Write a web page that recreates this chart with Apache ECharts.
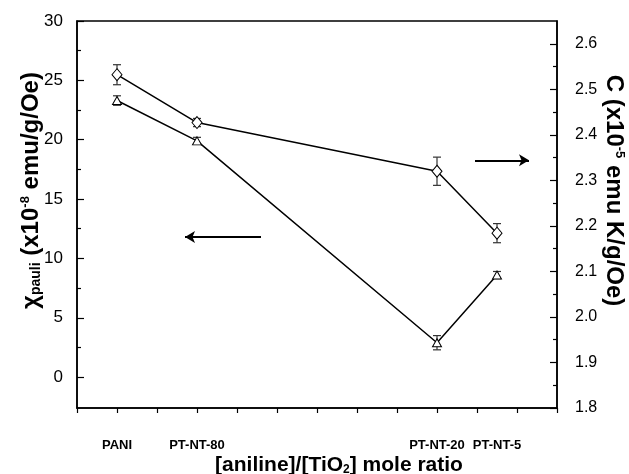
<!DOCTYPE html>
<html>
<head>
<meta charset="utf-8">
<script src="https://cdn.jsdelivr.net/npm/echarts@6/dist/echarts.min.js"></script>
<style>
html, body { margin: 0; padding: 0; background: #fff; }
#main { width: 629px; height: 474px; }
</style>
</head>
<body>
<div id="main"></div>
<script>
// samples and their place on the x scale
const samples = ['PANI', 'PT-NT-80', 'PT-NT-20', 'PT-NT-5'];
const samplePos = [1, 3, 9, 10.5];

// chi pauli (x10^-8 emu/g/Oe), left axis
const chiPauli = [23.3, 19.9, 2.9, 8.6];
const chiErr = [0.4, 0.3, 0.6, 0.3];

// Curie constant C (x10^-5 emu K/g/Oe), right axis
const curieC = [2.532, 2.427, 2.32, 2.184];
const curieErr = [0.022, 0.009, 0.031, 0.021];

const leftTicks = [0, 5, 10, 15, 20, 25, 30];
const leftMinor = [2.5, 7.5, 12.5, 17.5, 22.5, 27.5];
const rightTicks = [1.8, 1.9, 2.0, 2.1, 2.2, 2.3, 2.4, 2.5, 2.6];
const rightMinor = [1.85, 1.95, 2.05, 2.15, 2.25, 2.35, 2.45, 2.55];

const FONT = 'Liberation Sans, Arial, sans-serif';
let chart = echarts.init(document.getElementById('main'));

function errorBars(vals, errs, yIdx) {
  return {
    type: 'custom',
    xAxisIndex: 0,
    yAxisIndex: yIdx,
    silent: true,
    z: 1,
    data: samplePos.map((x, i) => [x, vals[i] - errs[i], vals[i] + errs[i]]),
    encode: { x: 0, y: [1, 2] },
    renderItem: function (params, api) {
      let lo = api.coord([api.value(0), api.value(1)]);
      let hi = api.coord([api.value(0), api.value(2)]);
      let w = 4;
      let st = { stroke: '#333', lineWidth: 1.2 };
      return {
        type: 'group',
        children: [
          { type: 'line', shape: { x1: lo[0], y1: lo[1], x2: hi[0], y2: hi[1] }, style: st },
          { type: 'line', shape: { x1: lo[0] - w, y1: lo[1], x2: lo[0] + w, y2: lo[1] }, style: st },
          { type: 'line', shape: { x1: hi[0] - w, y1: hi[1], x2: hi[0] + w, y2: hi[1] }, style: st }
        ]
      };
    }
  };
}

const axisLine = { show: true, onZero: false, lineStyle: { color: '#000', width: 1.5 } };

chart.setOption({
  animation: false,
  backgroundColor: '#fff',
  grid: {
    left: 77, right: 72, top: 21, bottom: 66,
    show: true, borderColor: '#000', borderWidth: 1.5,
    containLabel: false, outerBoundsMode: 'none'
  },
  xAxis: {
    type: 'value',
    min: 0, max: 12, interval: 1,
    name: '[aniline]/[TiO{sub|2}] mole ratio',
    nameLocation: 'middle',
    nameGap: 47,
    nameMoveOverlap: false,
    nameTextStyle: {
      fontFamily: FONT, fontWeight: 'bold', fontSize: 21, color: '#000',
      padding: [0, 0, 0, 44],
      rich: { sub: { fontFamily: FONT, fontWeight: 'bold', fontSize: 12, verticalAlign: 'bottom', color: '#000' } }
    },
    axisLine: axisLine,
    axisTick: { show: true, inside: false, length: 5, lineStyle: { color: '#000', width: 1.2 } },
    axisLabel: {
      customValues: samplePos,
      formatter: v => samples[samplePos.indexOf(v)] || '',
      fontFamily: FONT, fontWeight: 'bold', fontSize: 13, color: '#000', margin: 31
    },
    splitLine: { show: false }
  },
  yAxis: [
    {
      type: 'value', position: 'left', min: -2.6, max: 30,
      name: 'χ{sub|pauli} (x10{sup|-8} emu/g/Oe)',
      nameLocation: 'middle',
      nameGap: 34,
      nameMoveOverlap: false,
      nameTextStyle: {
        fontFamily: FONT, fontWeight: 'bold', fontSize: 24, color: '#000',
        padding: [0, 0, 0, 48],
        rich: {
          sub: { fontFamily: FONT, fontWeight: 'bold', fontSize: 14, verticalAlign: 'bottom', color: '#000' },
          sup: { fontFamily: FONT, fontWeight: 'bold', fontSize: 13, verticalAlign: 'top', color: '#000' }
        }
      },
      axisLine: axisLine,
      axisTick: { show: true, inside: true, length: 7, customValues: leftTicks, lineStyle: { color: '#000', width: 1.2 } },
      axisLabel: { customValues: leftTicks, fontFamily: FONT, fontSize: 17, color: '#000', margin: 14 },
      splitLine: { show: false }
    },
    {
      type: 'value', position: 'right', min: 1.8, max: 2.65,
      name: 'C (x10{sup|-5} emu K/g/Oe)',
      nameLocation: 'middle',
      nameRotate: -90,
      nameGap: 45,
      nameMoveOverlap: false,
      nameTextStyle: {
        fontFamily: FONT, fontWeight: 'bold', fontSize: 24, color: '#000',
        padding: [0, 48, 0, 0],
        rich: {
          sup: { fontFamily: FONT, fontWeight: 'bold', fontSize: 13, verticalAlign: 'top', color: '#000' }
        }
      },
      axisLine: axisLine,
      axisTick: { show: true, inside: true, length: 7, customValues: rightTicks, lineStyle: { color: '#000', width: 1.2 } },
      axisLabel: {
        customValues: rightTicks, formatter: v => v.toFixed(1),
        fontFamily: FONT, fontSize: 16, color: '#000', margin: 18
      },
      splitLine: { show: false }
    },
    {
      // minor ticks, left
      type: 'value', position: 'left', min: -2.6, max: 30,
      axisLine: { show: false },
      axisTick: { show: true, inside: true, length: 4, customValues: leftMinor, lineStyle: { color: '#000', width: 1.2 } },
      axisLabel: { show: false },
      splitLine: { show: false }
    },
    {
      // minor ticks, right
      type: 'value', position: 'right', min: 1.8, max: 2.65,
      axisLine: { show: false },
      axisTick: { show: true, inside: true, length: 4, customValues: rightMinor, lineStyle: { color: '#000', width: 1.2 } },
      axisLabel: { show: false },
      splitLine: { show: false }
    }
  ],
  series: [
    errorBars(chiPauli, chiErr, 0),
    errorBars(curieC, curieErr, 1),
    {
      type: 'line',
      yAxisIndex: 0,
      z: 3,
      data: samplePos.map((x, i) => [x, chiPauli[i]]),
      symbol: 'triangle',
      symbolSize: [9, 8],
      showAllSymbol: true,
      lineStyle: { color: '#000', width: 1.5 },
      itemStyle: { color: '#fff', borderColor: '#000', borderWidth: 1 },
      markLine: {
        silent: true,
        symbol: ['none', 'arrow'],
        symbolSize: [9, 10],
        label: { show: false },
        lineStyle: { color: '#000', width: 2, type: 'solid' },
        data: [[{ coord: [4.6, 11.8] }, { coord: [2.7, 11.8] }]]
      }
    },
    {
      type: 'line',
      yAxisIndex: 1,
      z: 3,
      data: samplePos.map((x, i) => [x, curieC[i]]),
      symbol: 'diamond',
      symbolSize: [10, 12],
      showAllSymbol: true,
      lineStyle: { color: '#000', width: 1.5 },
      itemStyle: { color: '#fff', borderColor: '#000', borderWidth: 1 },
      markLine: {
        silent: true,
        symbol: ['none', 'arrow'],
        symbolSize: [9, 10],
        label: { show: false },
        lineStyle: { color: '#000', width: 2, type: 'solid' },
        data: [[{ coord: [9.95, 2.344] }, { coord: [11.3, 2.344] }]]
      }
    }
  ]
});
</script>
</body>
</html>
